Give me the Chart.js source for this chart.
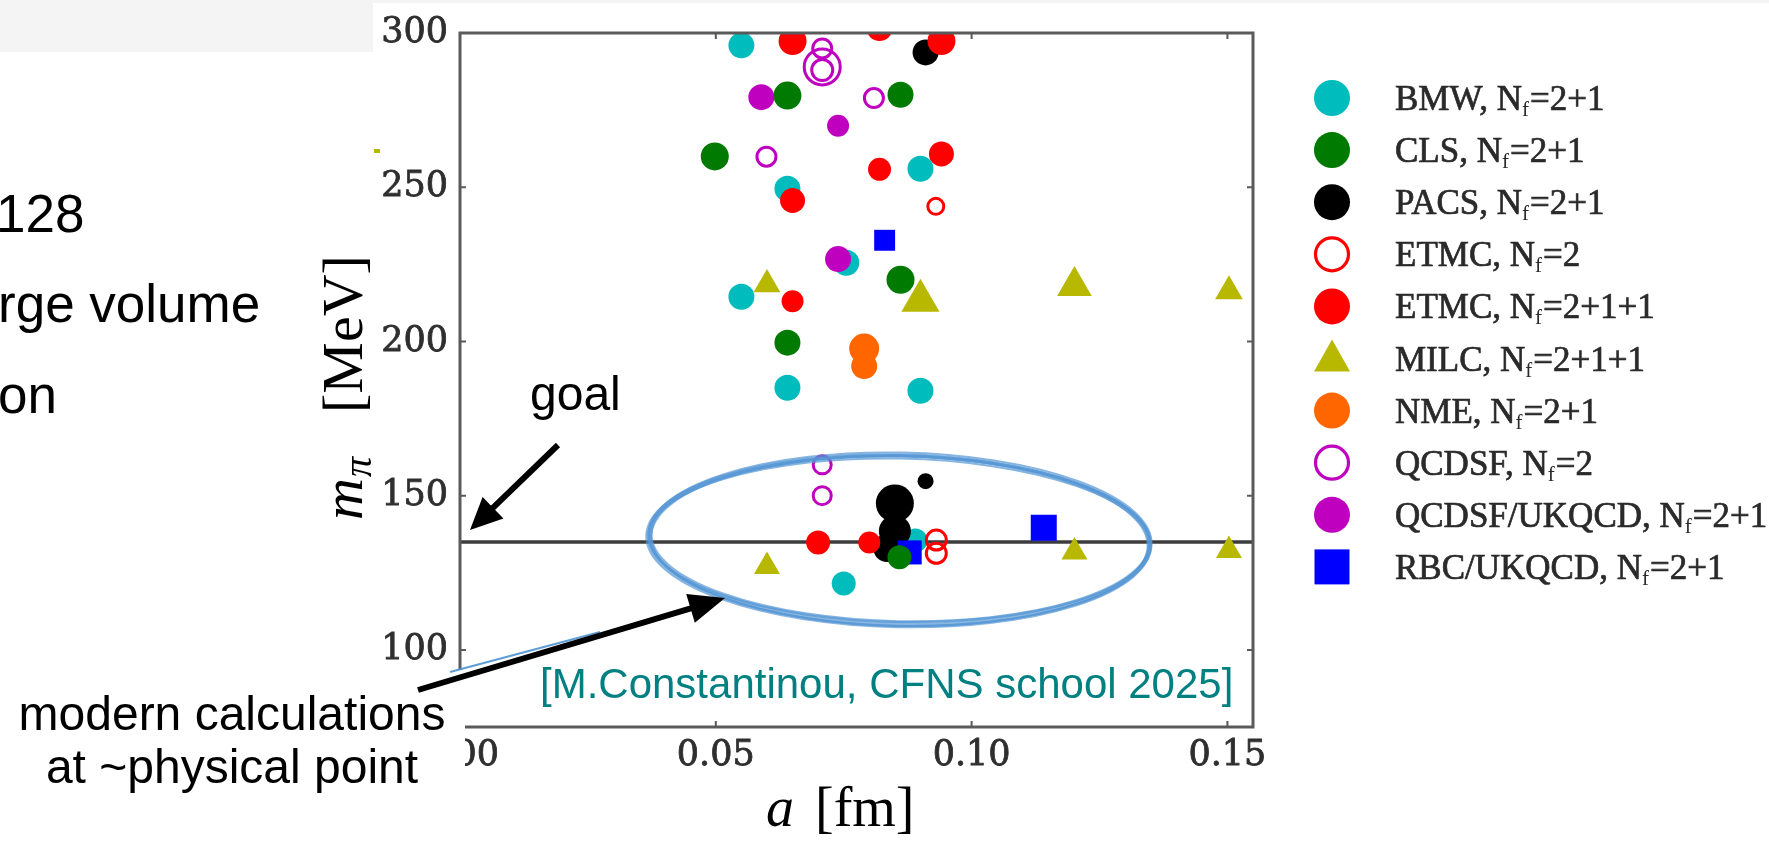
<!DOCTYPE html>
<html><head><meta charset="utf-8">
<script src="https://cdn.jsdelivr.net/npm/chart.js@4.4.1/dist/chart.umd.min.js"></script>
<style>
html,body{margin:0;padding:0;background:#fff;overflow:hidden}
#wrap{position:absolute;left:0;top:0;width:1769px;height:841px}
</style></head><body>
<div id="wrap"><canvas id="c" width="1769" height="841"></canvas></div>
<script>
// ---------- values ----------
const xTicks = [0, 0.05, 0.10, 0.15];
const yTicks = [100, 150, 200, 250, 300];
const physicalMass = 135;

const groupNames = ['BMW','CLS','PACS','ETMC','ETMC','MILC','NME','QCDSF','QCDSF/UKQCD','RBC/UKQCD'];
const flavours   = ['2+1','2+1','2+1','2','2+1+1','2+1+1','2+1','2','2+1','2+1'];

const bmwA = [0.055, 0.090, 0.064, 0.0755, 0.055, 0.064, 0.090, 0.089, 0.075];
const bmwM = [296, 256, 249.5, 225.5, 214.5, 185, 184, 135.5, 121.5];
const clsA = [0.064, 0.0861, 0.0498, 0.0861, 0.064, 0.0859];
const clsM = [279.7, 280, 260, 220, 199.6, 130];
const pacsA = [0.091, 0.085, 0.085, 0.0835, 0.091];
const pacsM = [293.7, 147.5, 138.5, 133, 154.7];
const etmc2A = [0.093, 0.0931, 0.0931];
const etmc2M = [243.8, 135.6, 131.3];
const etmc4A = [0.065, 0.082, 0.0941, 0.0941, 0.082, 0.065, 0.065, 0.070, 0.080];
const etmc4M = [297.4, 301.6, 297.4, 260.8, 255.8, 245.7, 213, 134.8, 134.8];
const milcA = [0.060, 0.090, 0.1201, 0.1503, 0.060, 0.1201, 0.1503];
const milcM = [218.5, 213.2, 218, 216.3, 127, 131.7, 132.2];
const nmeA = [0.079, 0.079];
const nmeM = [197.7, 192];
const qcdsfA = [0.0708, 0.0708, 0.0708, 0.0809, 0.0599, 0.0708, 0.0708];
const qcdsfM = [295, 289, 288, 278.9, 259.9, 150, 160];
const qukA = [0.0589, 0.0739, 0.0739];
const qukM = [279.2, 269.9, 226.7];
const rbcA = [0.083, 0.1141, 0.0879];
const rbcM = [232.8, 139.6, 131.6];

// ---------- marker sizes (styles, kept apart from values) ----------
const bmwR = [13, 13, 13, 13, 13, 13, 13, 12, 12];
const clsR = [14, 13, 14, 14, 13, 12];
const pacsR = [13, 19, 16, 14, 8];
const etmc2R = [8, 10, 10];
const etmc4R = [14, 13, 14, 12.5, 11.5, 12.5, 11, 12, 11];
const milcR = [15.5, 22, 20, 16, 15, 15, 15];
const nmeR = [15, 13];
const qcdsfR = [9.5, 18, 10.5, 9.5, 9.5, 9, 9];
const qukR = [13, 11, 13];
const rbcR = [14.8, 18.4, 17];

const CYAN='#00bcbc', GREEN='#007a00', BLACK='#000000', RED='#ff0000', OLIVE='#b8b800',
      ORANGE='#ff6600', MAGENTA='#bf00bf', BLUE='#0000ff';

const series = [
  {a:bmwA, m:bmwM, r:bmwR, style:'circle', color:CYAN, open:false, order:10},
  {a:clsA, m:clsM, r:clsR, style:'circle', color:GREEN, open:false, order:7},
  {a:pacsA, m:pacsM, r:pacsR, style:'circle', color:BLACK, open:false, order:9},
  {a:etmc2A, m:etmc2M, r:etmc2R, style:'circle', color:RED, open:true, order:4},
  {a:etmc4A, m:etmc4M, r:etmc4R, style:'circle', color:RED, open:false, order:3},
  {a:milcA, m:milcM, r:milcR, style:'triangle', color:OLIVE, open:false, order:5},
  {a:nmeA, m:nmeM, r:nmeR, style:'circle', color:ORANGE, open:false, order:6},
  {a:qcdsfA, m:qcdsfM, r:qcdsfR, style:'circle', color:MAGENTA, open:true, order:2},
  {a:qukA, m:qukM, r:qukR, style:'circle', color:MAGENTA, open:false, order:1},
  {a:rbcA, m:rbcM, r:rbcR, style:'rect', color:BLUE, open:false, order:8}
];

const datasets = series.map((s, k) => ({
  label: groupNames[k] + ', Nf=' + flavours[k],
  data: s.a.map((a, i) => ({x: a, y: s.m[i]})),
  pointStyle: s.style,
  pointRadius: s.r,
  pointHoverRadius: s.r,
  pointBackgroundColor: s.open ? 'rgba(0,0,0,0)' : s.color,
  pointBorderColor: s.color,
  pointBorderWidth: s.open ? 3 : 0,
  clip: 0,
  order: s.order
}));

// annotation ellipse (in data units)
const ring = {a: 0.0859, m: 135.7, ra: 0.049, rm: 27.3, tilt: 0.02};

function arrow(ctx, x1, y1, x2, y2, lw, hl, hw) {
  const ang = Math.atan2(y2 - y1, x2 - x1);
  const bx = x2 - hl * Math.cos(ang), by = y2 - hl * Math.sin(ang);
  ctx.save();
  ctx.strokeStyle = '#000'; ctx.fillStyle = '#000'; ctx.lineWidth = lw; ctx.lineCap = 'butt';
  ctx.beginPath(); ctx.moveTo(x1, y1); ctx.lineTo(bx + 2*Math.cos(ang), by + 2*Math.sin(ang)); ctx.stroke();
  ctx.beginPath();
  ctx.moveTo(x2, y2);
  ctx.lineTo(bx + hw * Math.sin(ang), by - hw * Math.cos(ang));
  ctx.lineTo(bx - hw * Math.sin(ang), by + hw * Math.cos(ang));
  ctx.closePath(); ctx.fill();
  ctx.restore();
}

const deco = {
  id: 'deco',
  beforeDraw(chart) {
    const ctx = chart.ctx;
    ctx.save();
    ctx.fillStyle = '#fff'; ctx.fillRect(0, 0, chart.width, chart.height);
    ctx.fillStyle = '#f4f4f4';
    ctx.fillRect(0, 0, chart.width, 3);
    ctx.fillRect(0, 0, 373, 52);
    ctx.restore();
  },
  beforeDatasetsDraw(chart) {
    const ctx = chart.ctx, ca = chart.chartArea, ys = chart.scales.y;
    const py = ys.getPixelForValue(physicalMass);
    ctx.save();
    ctx.strokeStyle = '#3c3c3c'; ctx.lineWidth = 3.5;
    ctx.beginPath(); ctx.moveTo(ca.left, py); ctx.lineTo(ca.right, py); ctx.stroke();
    ctx.restore();
  },
  afterDatasetsDraw(chart) {
    const ctx = chart.ctx, ca = chart.chartArea, xs = chart.scales.x, ys = chart.scales.y;
    // hand-drawn ellipse: a band of overlapping strokes
    const cx = xs.getPixelForValue(ring.a), cy = ys.getPixelForValue(ring.m);
    const rx = xs.getPixelForValue(ring.a + ring.ra) - cx;
    const ry = cy - ys.getPixelForValue(ring.m + ring.rm);
    const passes = [[0,0,0,0,3],[0.8,-1,-1.5,-1.5,2.5],[-0.8,1,1.5,2,2.5],[0,1.5,-2.5,0.5,2],
                    [0.5,-0.5,1,2.5,2],[-0.5,0.5,-1,-2.5,2]];
    ctx.save();
    ctx.strokeStyle = 'rgba(84,150,212,0.7)';
    passes.forEach(p => {
      ctx.lineWidth = p[4];
      ctx.beginPath();
      ctx.ellipse(cx + p[0], cy + p[1], rx + p[2], ry + p[3], ring.tilt, 0, Math.PI * 2);
      ctx.stroke();
    });
    ctx.restore();
    // frame and inward ticks
    ctx.save();
    ctx.strokeStyle = '#5a5a5a'; ctx.lineWidth = 3;
    ctx.strokeRect(ca.left, ca.top, ca.right - ca.left, ca.bottom - ca.top);
    ctx.lineWidth = 2;
    yTicks.forEach(v => {
      const p = ys.getPixelForValue(v);
      ctx.beginPath(); ctx.moveTo(ca.left, p); ctx.lineTo(ca.left + 6, p);
      ctx.moveTo(ca.right, p); ctx.lineTo(ca.right - 6, p); ctx.stroke();
    });
    xTicks.forEach(v => {
      const p = xs.getPixelForValue(v);
      ctx.beginPath(); ctx.moveTo(p, ca.bottom); ctx.lineTo(p, ca.bottom - 6);
      ctx.moveTo(p, ca.top); ctx.lineTo(p, ca.top + 6); ctx.stroke();
    });
    ctx.restore();
  },
  afterDraw(chart) {
    const ctx = chart.ctx;
    ctx.save();
    // white text box of the slide covering the lower-left corner
    ctx.fillStyle = '#fff';
    ctx.fillRect(0, 670, 465, 171);
    // small olive artefact
    ctx.fillStyle = OLIVE; ctx.fillRect(374, 149, 6, 4);
    // thin blue stroke leftover
    ctx.strokeStyle = 'rgba(78,146,210,0.9)'; ctx.lineWidth = 2;
    ctx.beginPath(); ctx.moveTo(450, 672); ctx.lineTo(600, 632); ctx.stroke();

    // y axis title  m_pi [MeV]
    ctx.save();
    ctx.translate(362, 520); ctx.rotate(-Math.PI / 2);
    ctx.fillStyle = '#000'; ctx.textBaseline = 'alphabetic'; ctx.textAlign = 'left';
    ctx.font = 'italic 58px "Liberation Serif"';
    ctx.fillText('m', 0, 0);
    const mw = ctx.measureText('m').width;
    ctx.font = 'italic 40px "Liberation Serif"';
    ctx.fillText('π', mw + 1, 9);
    ctx.font = '58px "Liberation Serif"';
    ctx.fillText('[MeV]', 107, 0);
    ctx.restore();

    // x axis title  a [fm]
    ctx.fillStyle = '#000'; ctx.textAlign = 'left'; ctx.textBaseline = 'alphabetic';
    ctx.font = 'italic 56px "Liberation Serif"';
    ctx.fillText('a', 766, 826);
    ctx.font = '56px "Liberation Serif"';
    ctx.fillText('[fm]', 815, 826);

    // legend
    const lx = 1332, ly0 = 98, step = 52.1, tx = 1395;
    series.forEach((s, k) => {
      const y = ly0 + step * k;
      ctx.fillStyle = s.color; ctx.strokeStyle = s.color;
      if (s.style === 'circle') {
        ctx.beginPath();
        if (s.open) { ctx.lineWidth = 3.2; ctx.arc(lx, y, 16.5, 0, Math.PI * 2); ctx.stroke(); }
        else { ctx.arc(lx, y, 18, 0, Math.PI * 2); ctx.fill(); }
      } else if (s.style === 'triangle') {
        ctx.beginPath(); ctx.moveTo(lx, y - 19); ctx.lineTo(lx + 18, y + 13); ctx.lineTo(lx - 18, y + 13);
        ctx.closePath(); ctx.fill();
      } else {
        ctx.fillRect(lx - 17.5, y - 17.5, 35, 35);
      }
      ctx.fillStyle = '#2a2a2a'; ctx.strokeStyle = '#2a2a2a'; ctx.lineWidth = 0.7;
      ctx.font = '35px "Liberation Serif"';
      const t1 = groupNames[k] + ', N';
      ctx.fillText(t1, tx, y + 12); ctx.strokeText(t1, tx, y + 12);
      let x = tx + ctx.measureText(t1).width;
      ctx.font = '21px "Liberation Serif"';
      ctx.fillText('f', x, y + 18);
      x += ctx.measureText('f').width + 1;
      ctx.font = '35px "Liberation Serif"';
      const t2 = '=' + flavours[k];
      ctx.fillText(t2, x, y + 12); ctx.strokeText(t2, x, y + 12);
    });

    // slide texts
    ctx.fillStyle = '#000';
    ctx.font = '53px "Liberation Sans"';
    ctx.fillText('128', -4, 232);
    ctx.fillText('rge volume', -2, 322);
    ctx.fillText('on', -2, 413);
    ctx.font = '48px "Liberation Sans"';
    ctx.fillText('goal', 530, 410);
    ctx.textAlign = 'center';
    ctx.font = '48px "Liberation Sans"';
    ctx.fillText('modern calculations', 232, 730);
    ctx.fillText('at ~physical point', 232, 783);
    ctx.textAlign = 'left';
    ctx.fillStyle = '#008080';
    ctx.font = '42px "Liberation Sans"';
    ctx.fillText('[M.Constantinou, CFNS school 2025]', 540, 698);

    arrow(ctx, 558, 445, 470, 530, 6, 32, 15);
    arrow(ctx, 418, 690, 725, 598, 6, 36, 15);
    ctx.restore();
  }
};

const tickFont = {family: 'DejaVu Serif', size: 35};
new Chart(document.getElementById('c'), {
  type: 'scatter',
  data: {datasets},
  options: {
    responsive: false,
    animation: false,
    devicePixelRatio: 1,
    events: [],
    layout: {padding: {left: 360, right: 516, top: 27, bottom: 54}},
    plugins: {legend: {display: false}, tooltip: {enabled: false}},
    scales: {
      x: {
        type: 'linear', min: 0, max: 0.155,
        afterBuildTicks: s => { s.ticks = xTicks.map(v => ({value: v})); },
        afterFit: s => { s.height = 60; },
        grid: {display: false, drawTicks: false},
        border: {display: false},
        ticks: {padding: 8, color: '#2e2e2e', font: tickFont, textStrokeColor: '#2e2e2e', textStrokeWidth: 0.8,
                callback: v => Number(v).toFixed(2), maxRotation: 0, autoSkip: false}
      },
      y: {
        type: 'linear', min: 75, max: 300,
        afterBuildTicks: s => { s.ticks = yTicks.map(v => ({value: v})); },
        afterFit: s => { s.width = 100; },
        grid: {display: false, drawTicks: false},
        border: {display: false},
        ticks: {padding: 12, color: '#2e2e2e', font: tickFont, textStrokeColor: '#2e2e2e', textStrokeWidth: 0.8,
                callback: v => String(v), autoSkip: false}
      }
    }
  },
  plugins: [deco]
});
</script>
</body></html>
